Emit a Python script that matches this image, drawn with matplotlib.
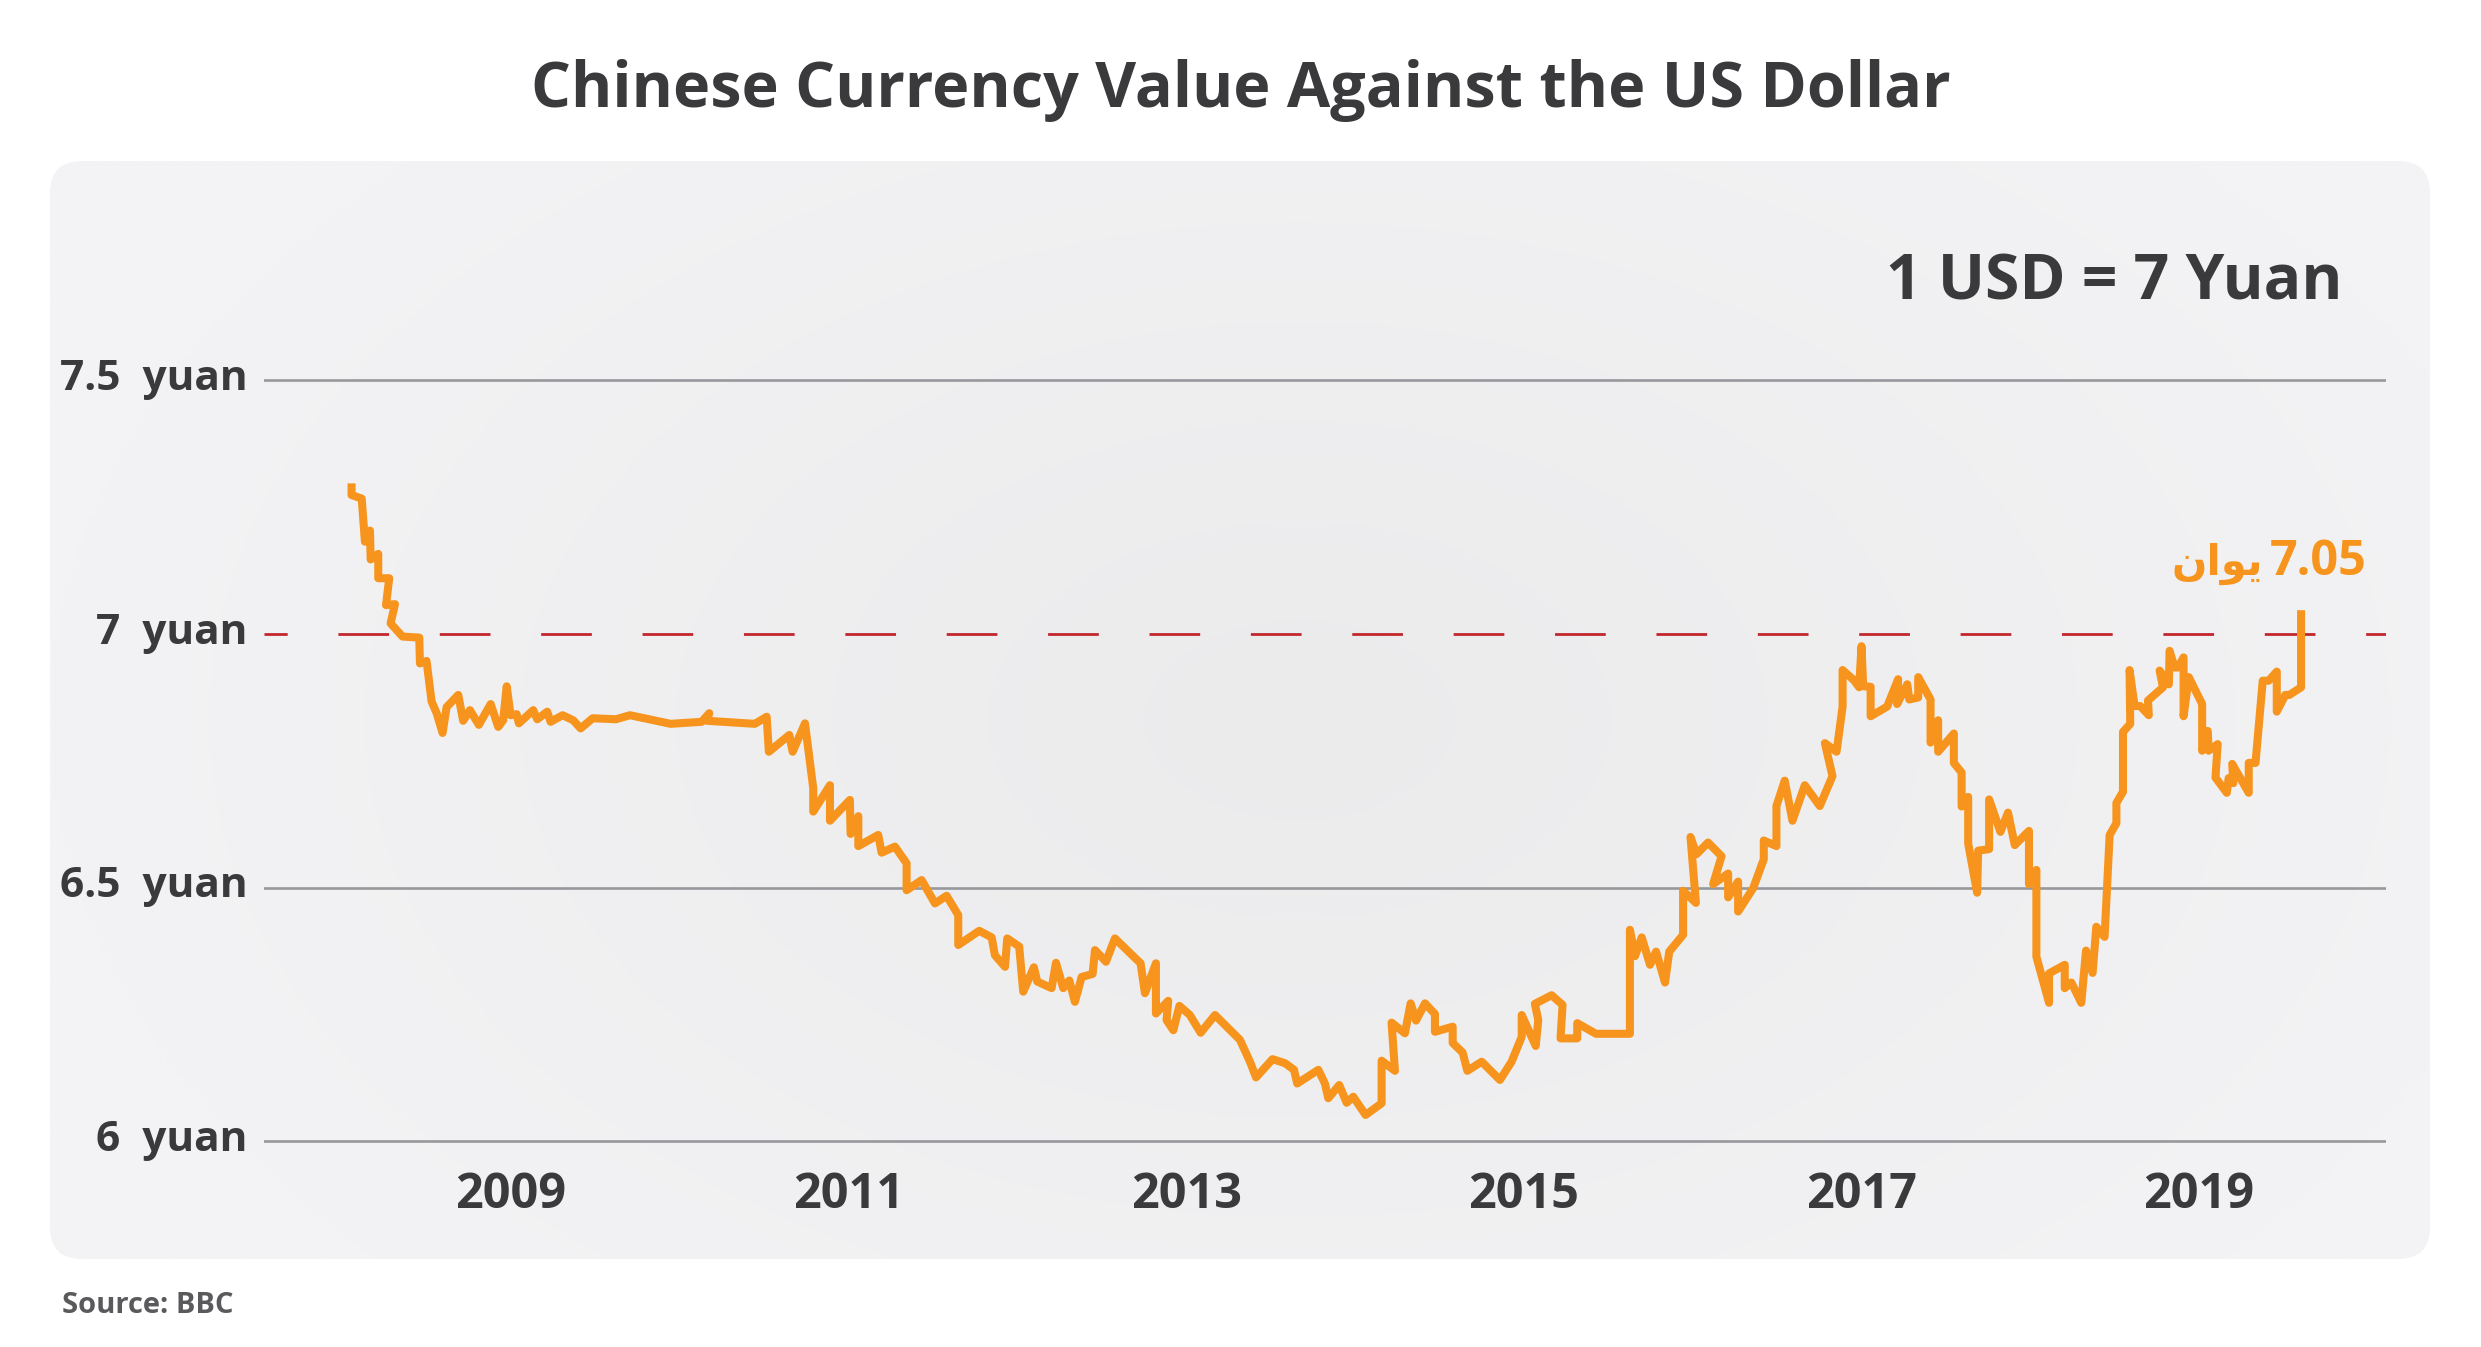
import matplotlib
matplotlib.use("Agg")
import matplotlib.pyplot as plt
import matplotlib.transforms as mtransforms
import numpy as np
from matplotlib.patches import FancyBboxPatch

# USD/CNY (decimal year, yuan per dollar)
dates = [2008.056, 2008.056, 2008.116, 2008.135, 2008.165, 2008.169, 2008.214, 2008.214, 2008.279, 2008.260,
         2008.313, 2008.287, 2008.358, 2008.457, 2008.461, 2008.500, 2008.530, 2008.560, 2008.595, 2008.619,
         2008.688, 2008.717, 2008.757, 2008.810, 2008.880, 2008.925, 2008.954, 2008.975, 2008.998, 2009.034,
         2009.047, 2009.132, 2009.156, 2009.215, 2009.235, 2009.306, 2009.369, 2009.413, 2009.484, 2009.622,
         2009.705, 2009.946, 2010.130, 2010.175, 2010.160, 2010.445, 2010.515, 2010.528, 2010.649, 2010.669,
         2010.742, 2010.791, 2010.791, 2010.890, 2010.890, 2011.008, 2011.012, 2011.058, 2011.058, 2011.176,
         2011.196, 2011.275, 2011.344, 2011.344, 2011.433, 2011.512, 2011.581, 2011.650, 2011.650, 2011.774,
         2011.848, 2011.867, 2011.927, 2011.940, 2012.011, 2012.035, 2012.098, 2012.118, 2012.203, 2012.229,
         2012.272, 2012.308, 2012.341, 2012.381, 2012.446, 2012.460, 2012.525, 2012.578, 2012.730, 2012.756,
         2012.821, 2012.821, 2012.894, 2012.884, 2012.924, 2012.960, 2013.022, 2013.086, 2013.171, 2013.319,
         2013.378, 2013.414, 2013.512, 2013.586, 2013.639, 2013.658, 2013.783, 2013.822, 2013.842, 2013.907,
         2013.951, 2013.990, 2014.063, 2014.158, 2014.158, 2014.237, 2014.217, 2014.296, 2014.330, 2014.362,
         2014.415, 2014.474, 2014.474, 2014.579, 2014.579, 2014.638, 2014.666, 2014.751, 2014.859, 2014.928,
         2014.988, 2014.988, 2015.071, 2015.086, 2015.066, 2015.165, 2015.230, 2015.218, 2015.317, 2015.317,
         2015.428, 2015.629, 2015.629, 2015.659, 2015.699, 2015.748, 2015.784, 2015.837, 2015.862, 2015.944,
         2015.944, 2016.020, 2015.988, 2016.023, 2016.092, 2016.172, 2016.122, 2016.211, 2016.211, 2016.270,
         2016.270, 2016.359, 2016.422, 2016.422, 2016.497, 2016.497, 2016.546, 2016.592, 2016.665, 2016.754,
         2016.829, 2016.784, 2016.853, 2016.889, 2016.889, 2016.956, 2016.987, 2017.001, 2017.011, 2017.055,
         2017.055, 2017.153, 2017.218, 2017.212, 2017.272, 2017.284, 2017.337, 2017.337, 2017.410, 2017.410,
         2017.455, 2017.455, 2017.548, 2017.548, 2017.594, 2017.594, 2017.633, 2017.633, 2017.686, 2017.692,
         2017.757, 2017.757, 2017.824, 2017.869, 2017.909, 2017.993, 2017.993, 2018.037, 2018.037, 2018.112,
         2018.112, 2018.205, 2018.205, 2018.244, 2018.303, 2018.331, 2018.370, 2018.392, 2018.441, 2018.471,
         2018.511, 2018.511, 2018.550, 2018.550, 2018.593, 2018.589, 2018.619, 2018.652, 2018.703, 2018.698,
         2018.787, 2018.767, 2018.822, 2018.826, 2018.856, 2018.875, 2018.909, 2018.909, 2018.940, 2019.019,
         2019.019, 2019.052, 2019.058, 2019.111, 2019.098, 2019.165, 2019.176, 2019.204, 2019.197, 2019.295,
         2019.295, 2019.335, 2019.378, 2019.413, 2019.461, 2019.461, 2019.512, 2019.536, 2019.605, 2019.605]
rate = [7.297, 7.274, 7.267, 7.182, 7.204, 7.147, 7.158, 7.110, 7.110, 7.057,
        7.059, 7.021, 6.995, 6.993, 6.942, 6.947, 6.867, 6.844, 6.805, 6.856,
        6.880, 6.829, 6.850, 6.821, 6.862, 6.817, 6.830, 6.897, 6.840, 6.842,
        6.824, 6.850, 6.832, 6.847, 6.827, 6.840, 6.830, 6.814, 6.834, 6.832,
        6.840, 6.823, 6.827, 6.844, 6.829, 6.823, 6.837, 6.768, 6.801, 6.768,
        6.824, 6.696, 6.650, 6.702, 6.632, 6.673, 6.606, 6.641, 6.582, 6.604,
        6.569, 6.581, 6.548, 6.495, 6.515, 6.469, 6.484, 6.446, 6.387, 6.415,
        6.402, 6.367, 6.344, 6.400, 6.384, 6.295, 6.343, 6.315, 6.302, 6.352,
        6.302, 6.317, 6.275, 6.324, 6.330, 6.377, 6.354, 6.400, 6.351, 6.292,
        6.351, 6.252, 6.277, 6.239, 6.219, 6.267, 6.249, 6.214, 6.249, 6.200,
        6.157, 6.126, 6.162, 6.154, 6.141, 6.114, 6.141, 6.114, 6.085, 6.111,
        6.076, 6.088, 6.052, 6.075, 6.159, 6.139, 6.234, 6.213, 6.272, 6.238,
        6.272, 6.251, 6.216, 6.226, 6.194, 6.175, 6.139, 6.157, 6.121, 6.157,
        6.206, 6.249, 6.188, 6.239, 6.271, 6.288, 6.269, 6.203, 6.203, 6.233,
        6.212, 6.212, 6.417, 6.365, 6.402, 6.348, 6.374, 6.313, 6.374, 6.407,
        6.494, 6.470, 6.600, 6.566, 6.589, 6.562, 6.507, 6.528, 6.481, 6.512,
        6.453, 6.499, 6.556, 6.593, 6.582, 6.661, 6.711, 6.632, 6.702, 6.661,
        6.720, 6.785, 6.768, 6.857, 6.929, 6.909, 6.895, 6.976, 6.897, 6.896,
        6.838, 6.857, 6.911, 6.862, 6.901, 6.871, 6.875, 6.915, 6.871, 6.786,
        6.830, 6.768, 6.804, 6.746, 6.727, 6.660, 6.679, 6.587, 6.490, 6.573,
        6.576, 6.674, 6.610, 6.648, 6.584, 6.612, 6.507, 6.535, 6.364, 6.273,
        6.331, 6.348, 6.302, 6.313, 6.273, 6.376, 6.332, 6.423, 6.403, 6.604,
        6.627, 6.667, 6.689, 6.807, 6.823, 6.929, 6.858, 6.858, 6.840, 6.869,
        6.895, 6.928, 6.901, 6.967, 6.934, 6.934, 6.954, 6.838, 6.915, 6.862,
        6.770, 6.809, 6.770, 6.783, 6.717, 6.687, 6.716, 6.706, 6.744, 6.687,
        6.746, 6.746, 6.908, 6.908, 6.926, 6.847, 6.880, 6.880, 6.895, 7.047]

year_ticks = [2009, 2011, 2013, 2015, 2017, 2019]
yuan_ticks = [6, 6.5, 7, 7.5]
yuan_labels = ["6  yuan", "6.5  yuan", "7  yuan", "7.5  yuan"]
last_value = "7.05"
last_unit = "\uFEE5\uFE8D\uFEEE\uFEF3"   # يوان, shaped for display

W, H = 2481, 1347
DARK = "#3a3a3c"
ORANGE = "#f7941d"
RED = "#c1272d"
GRID = "#97989b"

fig = plt.figure(figsize=(W / 100, H / 100), dpi=100)
fig.patch.set_facecolor("white")

# rounded panel with a soft radial shading
bg = fig.add_axes([0, 0, 1, 1], zorder=0)
bg.set_xlim(0, W)
bg.set_ylim(H, 0)
bg.axis("off")
px0, py0, pw, ph = 50, 161, 2380, 1098
gx, gy = np.meshgrid(np.linspace(px0, px0 + pw, 400), np.linspace(py0, py0 + ph, 200))
r = np.sqrt(((gx - 1300) / 1250) ** 2 + ((gy - 720) / 800) ** 2)
r = np.clip(r, 0, 1)
c_mid = np.array([235, 235, 236]) / 255
c_edge = np.array([243, 243, 245]) / 255
img = c_mid[None, None, :] + (c_edge - c_mid)[None, None, :] * r[..., None]
im = bg.imshow(img, extent=(px0, px0 + pw, py0 + ph, py0), aspect="auto", interpolation="bilinear")
panel = FancyBboxPatch((px0, py0), pw, ph, boxstyle="round,pad=0,rounding_size=32",
                       transform=bg.transData, facecolor="none", edgecolor="none")
bg.add_patch(panel)
im.set_clip_path(panel)

# main axes
ax = fig.add_axes([0.1064, 0.13385, 0.8553, 0.64024], zorder=1)
ax.set_facecolor("none")
ax.set_xlim(2007.537, 2020.108)
ax.set_ylim(5.95, 7.65)
for s in ax.spines.values():
    s.set_visible(False)

for v in [6, 6.5, 7.5]:
    ax.axhline(v, color=GRID, lw=1.9, zorder=1)
ax.axhline(7, color=RED, lw=2, linestyle=(9.9, (18.25, 18.25)), zorder=2)

ax.plot(dates, rate, color=ORANGE, lw=5.8, solid_joinstyle="round", solid_capstyle="butt", zorder=3)

ax.set_yticks(yuan_ticks)
ax.set_yticklabels(yuan_labels)
ax.set_xticks(year_ticks)
ax.set_xticklabels([str(y) for y in year_ticks])
ax.tick_params(axis="both", length=0)
ax.tick_params(axis="y", pad=12)
ax.tick_params(axis="x", pad=3)
for lab in ax.get_yticklabels() + ax.get_xticklabels():
    lab.set_fontfamily("Open Sans")
    lab.set_fontweight("bold")
    lab.set_color(DARK)
lift = mtransforms.ScaledTranslation(0, 6 / 100, fig.dpi_scale_trans)
for lab in ax.get_yticklabels():
    lab.set_fontsize(30.5)
    lab.set_transform(lab.get_transform() + lift)
for lab in ax.get_xticklabels():
    lab.set_fontsize(35)

ax.text(2019.995, 7.116, last_value, ha="right", va="baseline", color=ORANGE,
        fontsize=35, fontweight="bold", family="Open Sans")
ax.text(2019.38, 7.116, last_unit, ha="right", va="baseline", color=ORANGE,
        fontsize=30, fontweight="bold", family=["DejaVu Sans"])

fig.text(0.5, 0.9206, "Chinese Currency Value Against the US Dollar", ha="center", va="baseline",
         fontsize=45.3, fontweight="bold", family="Open Sans", color=DARK)
fig.text(0.944, 0.7773, "1 USD = 7 Yuan", ha="right", va="baseline",
         fontsize=45, fontweight="bold", family="Open Sans", color=DARK)
fig.text(0.025, 0.02524, "Source: BBC", ha="left", va="baseline",
         fontsize=21, fontweight="bold", family="Open Sans", color="#5a5a5c")

fig.savefig("out.png", dpi=100, facecolor="white")
